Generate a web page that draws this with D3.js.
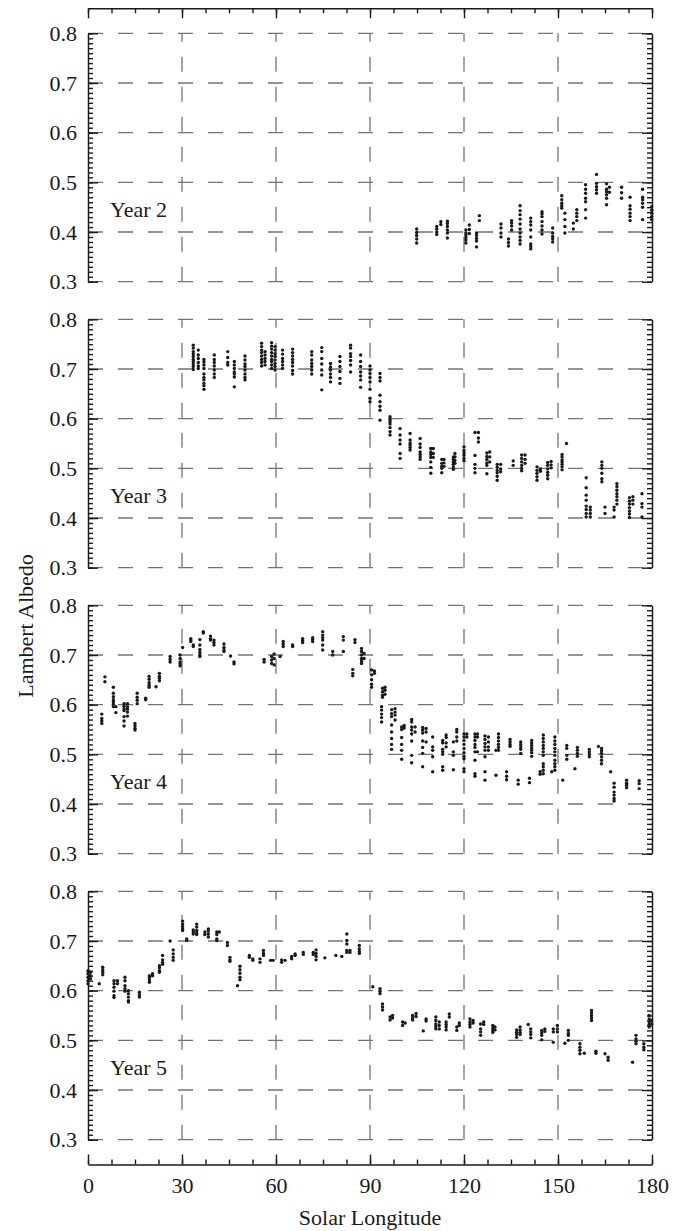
<!DOCTYPE html>
<html>
<head>
<meta charset="utf-8">
<script src="https://cdn.jsdelivr.net/npm/d3@7"></script>
<style>
  body { margin: 0; background: #fff; }
  svg { display: block; }
  text { font-family: "Liberation Serif", "Times New Roman", serif; fill: #1a1a1a; }
</style>
</head>
<body>
<svg id="chart" width="681" height="1231"></svg>
<script>
// Axis ticks and labels
const xTicks = [0, 30, 60, 90, 120, 150, 180];
const xGrid = [30, 60, 90, 120, 150];
const yTicks = [0.3, 0.4, 0.5, 0.6, 0.7, 0.8];
const yearLabels = ["Year 2", "Year 3", "Year 4", "Year 5"];

// Lambert albedo observations: [solar longitude, [albedo values at that Ls]]
const year2 = [
  [104.9, [0.406, 0.399, 0.393, 0.386, 0.378]],
  [111.3, [0.411, 0.406, 0.400, 0.395]],
  [112.6, [0.421, 0.415]],
  [114.7, [0.422, 0.417, 0.411, 0.404, 0.398, 0.388]],
  [120.6, [0.404, 0.398, 0.394, 0.389, 0.384, 0.378]],
  [121.7, [0.414, 0.405, 0.397]],
  [124.0, [0.398, 0.393, 0.387, 0.382, 0.370]],
  [124.9, [0.433, 0.423]],
  [131.8, [0.416, 0.408, 0.398, 0.390]],
  [134.2, [0.386, 0.379, 0.372]],
  [135.2, [0.423, 0.418, 0.412, 0.404]],
  [137.9, [0.453, 0.443, 0.435, 0.426, 0.416, 0.406, 0.398, 0.390, 0.383, 0.376]],
  [141.3, [0.428, 0.421, 0.414, 0.404, 0.390, 0.376, 0.371, 0.366]],
  [144.9, [0.441, 0.437, 0.431, 0.421, 0.412, 0.404, 0.396]],
  [148.3, [0.408, 0.398, 0.391, 0.386, 0.380]],
  [151.2, [0.473, 0.465, 0.458, 0.453, 0.448]],
  [152.2, [0.438, 0.425, 0.411, 0.398]],
  [154.9, [0.418, 0.406]],
  [156.0, [0.445, 0.438, 0.431, 0.423]],
  [158.8, [0.495, 0.486, 0.478, 0.468, 0.461, 0.445, 0.428]],
  [162.3, [0.516, 0.498, 0.491, 0.485, 0.478]],
  [165.5, [0.497, 0.486, 0.481, 0.475, 0.468, 0.455]],
  [166.4, [0.490, 0.480]],
  [170.3, [0.490, 0.479, 0.468]],
  [173.0, [0.470, 0.453, 0.446, 0.438, 0.431, 0.423]],
  [177.0, [0.486, 0.470, 0.465, 0.458, 0.450, 0.425]],
  [179.9, [0.451, 0.444, 0.438, 0.431, 0.425]]
];

const year3 = [
  [33.6, [0.748, 0.742, 0.735, 0.730, 0.725, 0.719, 0.715, 0.710, 0.705, 0.699]],
  [35.2, [0.738, 0.728, 0.721, 0.713, 0.706, 0.701]],
  [37.0, [0.719, 0.714, 0.708, 0.701, 0.690, 0.683, 0.678, 0.671, 0.666, 0.659]],
  [40.3, [0.728, 0.719, 0.713, 0.706, 0.698, 0.690, 0.683]],
  [44.6, [0.735, 0.723, 0.713, 0.708]],
  [46.7, [0.715, 0.708, 0.701, 0.694, 0.690, 0.684, 0.664]],
  [50.1, [0.726, 0.718, 0.710, 0.705, 0.698, 0.690, 0.683, 0.678]],
  [55.4, [0.752, 0.745, 0.738, 0.733, 0.726, 0.719, 0.713, 0.706]],
  [56.5, [0.735, 0.728, 0.721, 0.715, 0.708]],
  [58.6, [0.753, 0.746, 0.740, 0.733, 0.726, 0.719, 0.715, 0.708, 0.701]],
  [59.7, [0.745, 0.738, 0.731, 0.725, 0.718, 0.711, 0.705, 0.698]],
  [62.1, [0.738, 0.730, 0.721, 0.715, 0.708, 0.701]],
  [65.3, [0.740, 0.733, 0.726, 0.719, 0.713, 0.706, 0.697, 0.690]],
  [71.4, [0.735, 0.728, 0.718, 0.711, 0.705, 0.698, 0.690]],
  [74.6, [0.743, 0.735, 0.721, 0.710, 0.698, 0.688, 0.658]],
  [77.4, [0.711, 0.704, 0.698, 0.690, 0.683, 0.674]],
  [80.4, [0.725, 0.715, 0.705, 0.695, 0.681, 0.671]],
  [83.8, [0.748, 0.742, 0.731, 0.725, 0.717, 0.708, 0.694]],
  [87.0, [0.728, 0.715, 0.705, 0.694, 0.686, 0.678, 0.663]],
  [90.0, [0.706, 0.698, 0.691, 0.683, 0.674, 0.659, 0.641, 0.634]],
  [93.2, [0.691, 0.683, 0.676, 0.647, 0.634, 0.625, 0.617, 0.597]],
  [96.4, [0.604, 0.598, 0.594, 0.589, 0.582, 0.574, 0.567]],
  [99.6, [0.580, 0.567, 0.557, 0.549, 0.530, 0.520]],
  [102.8, [0.570, 0.557, 0.551, 0.547, 0.542, 0.537]],
  [106.0, [0.560, 0.549, 0.542, 0.533, 0.528, 0.523, 0.518]],
  [109.4, [0.540, 0.533, 0.528, 0.522, 0.513, 0.502, 0.490]],
  [110.2, [0.540, 0.530, 0.522]],
  [112.9, [0.518, 0.510, 0.504, 0.500, 0.491]],
  [113.6, [0.518, 0.511, 0.504]],
  [116.6, [0.523, 0.518, 0.513, 0.508, 0.503, 0.498]],
  [117.1, [0.530, 0.523, 0.516, 0.510]],
  [120.0, [0.543, 0.536, 0.531, 0.526, 0.520, 0.515]],
  [123.5, [0.572, 0.526, 0.508, 0.500, 0.491]],
  [124.6, [0.572, 0.561, 0.553]],
  [127.3, [0.531, 0.524, 0.518, 0.511, 0.506, 0.489]],
  [128.2, [0.533, 0.523, 0.513]],
  [130.6, [0.508, 0.502, 0.496, 0.491, 0.484, 0.476]],
  [131.7, [0.508, 0.499, 0.493]],
  [135.7, [0.515, 0.506]],
  [138.4, [0.527, 0.520, 0.513, 0.506, 0.500, 0.495]],
  [139.5, [0.527, 0.518, 0.510]],
  [143.3, [0.503, 0.496, 0.490, 0.483, 0.476]],
  [144.4, [0.499, 0.494]],
  [146.7, [0.512, 0.506, 0.499, 0.492, 0.486, 0.479]],
  [147.8, [0.514, 0.507, 0.501]],
  [151.3, [0.528, 0.523, 0.517, 0.513, 0.508, 0.503, 0.497]],
  [152.7, [0.550]],
  [159.0, [0.481, 0.461, 0.446, 0.436, 0.424, 0.417, 0.409, 0.402]],
  [160.3, [0.422, 0.416, 0.409, 0.402]],
  [164.0, [0.513, 0.506, 0.500, 0.490, 0.479, 0.473]],
  [165.0, [0.422, 0.409]],
  [167.9, [0.422, 0.416, 0.402]],
  [168.8, [0.469, 0.463, 0.456, 0.449, 0.443, 0.436, 0.428]],
  [172.8, [0.441, 0.434, 0.428, 0.421, 0.414, 0.408, 0.401]],
  [173.9, [0.443, 0.436, 0.428]],
  [176.8, [0.449, 0.429, 0.422, 0.402]]
];

const year4 = [
  [4.4, [0.581, 0.572, 0.567, 0.562]],
  [5.4, [0.656, 0.646]],
  [8.1, [0.635, 0.623, 0.616, 0.610, 0.606, 0.601, 0.596]],
  [8.9, [0.596, 0.584]],
  [11.5, [0.602, 0.597, 0.592, 0.588, 0.576, 0.567, 0.557]],
  [12.6, [0.602, 0.596, 0.591, 0.585, 0.577]],
  [15.0, [0.562, 0.557, 0.552, 0.549]],
  [15.7, [0.623, 0.615, 0.609, 0.602]],
  [18.4, [0.613, 0.610]],
  [19.5, [0.657, 0.651, 0.644, 0.639, 0.635]],
  [21.7, [0.636]],
  [22.8, [0.663, 0.657, 0.653, 0.648]],
  [26.2, [0.697, 0.691, 0.686]],
  [29.4, [0.700, 0.693, 0.686, 0.682, 0.678]],
  [30.2, [0.715]],
  [32.8, [0.733, 0.730, 0.727]],
  [33.6, [0.720, 0.717]],
  [35.7, [0.731, 0.720, 0.711, 0.705, 0.700, 0.697]],
  [36.8, [0.747, 0.744]],
  [39.1, [0.738, 0.733, 0.730]],
  [40.2, [0.730, 0.725, 0.720]],
  [43.4, [0.722, 0.715, 0.710, 0.707]],
  [45.5, [0.698]],
  [46.6, [0.686, 0.682]],
  [56.2, [0.691, 0.686]],
  [58.6, [0.697, 0.690, 0.683]],
  [59.4, [0.702, 0.693, 0.680]],
  [61.3, [0.697]],
  [62.3, [0.727, 0.722, 0.717]],
  [65.3, [0.720, 0.717]],
  [68.5, [0.733, 0.729, 0.725]],
  [71.7, [0.735, 0.731, 0.727]],
  [74.9, [0.747, 0.740, 0.735, 0.730, 0.720, 0.710]],
  [78.1, [0.707, 0.700]],
  [81.5, [0.737, 0.730, 0.707]],
  [84.5, [0.671, 0.663, 0.658]],
  [85.2, [0.731, 0.725]],
  [87.3, [0.713, 0.707, 0.700, 0.693, 0.688, 0.683]],
  [88.1, [0.703, 0.693]],
  [90.5, [0.670, 0.660, 0.650, 0.641, 0.635]],
  [91.4, [0.668, 0.663]],
  [93.7, [0.596, 0.589, 0.581, 0.574, 0.565]],
  [94.0, [0.633, 0.626, 0.619, 0.615]],
  [94.8, [0.635, 0.629, 0.621]],
  [96.9, [0.590, 0.582, 0.576, 0.559, 0.545, 0.532, 0.520, 0.510]],
  [98.0, [0.592, 0.585, 0.579, 0.569]],
  [100.1, [0.555, 0.550, 0.534, 0.520, 0.508, 0.490]],
  [100.9, [0.558, 0.553]],
  [103.3, [0.570, 0.565, 0.555, 0.549, 0.541, 0.527, 0.498, 0.483]],
  [104.4, [0.555, 0.545]],
  [106.8, [0.554, 0.549, 0.543, 0.527, 0.514, 0.502, 0.475]],
  [107.9, [0.552, 0.545, 0.525]],
  [110.0, [0.535, 0.515, 0.508, 0.495, 0.465]],
  [113.2, [0.528, 0.523, 0.510, 0.505, 0.500, 0.475, 0.468]],
  [114.3, [0.539, 0.534, 0.523, 0.515]],
  [116.6, [0.525, 0.505, 0.498, 0.469]],
  [117.7, [0.550, 0.545, 0.535, 0.527]],
  [120.0, [0.541, 0.535, 0.528, 0.520, 0.512, 0.503, 0.496, 0.491, 0.471, 0.465]],
  [120.9, [0.541, 0.535]],
  [123.5, [0.541, 0.535, 0.528, 0.520, 0.514, 0.505, 0.488, 0.461, 0.456]],
  [124.3, [0.541, 0.535, 0.505]],
  [126.7, [0.537, 0.530, 0.522, 0.515, 0.508, 0.495, 0.465, 0.448]],
  [127.8, [0.535, 0.525, 0.515, 0.508]],
  [130.2, [0.508, 0.458]],
  [131.0, [0.541, 0.534, 0.527, 0.520, 0.514, 0.508]],
  [133.6, [0.465, 0.456, 0.449]],
  [134.7, [0.530, 0.525, 0.520, 0.516]],
  [137.3, [0.448, 0.440]],
  [138.1, [0.525, 0.520, 0.515, 0.510, 0.502]],
  [140.9, [0.452, 0.443]],
  [141.6, [0.528, 0.523, 0.518, 0.513, 0.508, 0.503, 0.496]],
  [144.3, [0.465, 0.460]],
  [145.3, [0.539, 0.532, 0.525, 0.518, 0.512, 0.505, 0.498, 0.481, 0.475, 0.468, 0.461]],
  [148.0, [0.465]],
  [149.0, [0.535, 0.527, 0.520, 0.512, 0.505, 0.498, 0.488, 0.481, 0.475, 0.468]],
  [151.5, [0.448]],
  [152.8, [0.518, 0.512, 0.498, 0.490]],
  [155.4, [0.471]],
  [156.2, [0.514, 0.508, 0.502, 0.496]],
  [160.0, [0.510, 0.505, 0.500, 0.495]],
  [162.9, [0.516]],
  [163.9, [0.512, 0.507, 0.502, 0.495, 0.488, 0.481]],
  [166.8, [0.465]],
  [167.9, [0.442, 0.434, 0.424, 0.418, 0.411, 0.406]],
  [171.9, [0.448, 0.442, 0.438, 0.433]],
  [175.9, [0.447, 0.441, 0.431]]
];

const year5 = [
  [0.0, [0.640, 0.634, 0.627, 0.620, 0.614]],
  [0.8, [0.637, 0.630, 0.624]],
  [3.6, [0.614]],
  [4.7, [0.647, 0.642, 0.637, 0.632]],
  [8.3, [0.620, 0.614, 0.607, 0.599, 0.590, 0.586]],
  [9.4, [0.620, 0.614]],
  [11.8, [0.627, 0.620, 0.610, 0.604, 0.599]],
  [12.9, [0.600, 0.594, 0.587, 0.580, 0.577]],
  [16.4, [0.597, 0.592, 0.587]],
  [19.6, [0.630, 0.627, 0.622, 0.617]],
  [20.6, [0.634, 0.630]],
  [22.8, [0.650, 0.646, 0.640, 0.637]],
  [23.8, [0.671, 0.662, 0.657, 0.653]],
  [26.2, [0.700]],
  [27.2, [0.682, 0.674, 0.667, 0.661]],
  [30.2, [0.740, 0.734, 0.729, 0.724, 0.721]],
  [31.5, [0.704, 0.701]],
  [33.6, [0.722, 0.718, 0.714]],
  [34.7, [0.734, 0.728, 0.721, 0.716, 0.713]],
  [37.3, [0.718, 0.713]],
  [38.4, [0.724, 0.720, 0.714, 0.708]],
  [41.1, [0.718, 0.713, 0.704, 0.701]],
  [41.9, [0.718]],
  [44.5, [0.697, 0.691]],
  [45.3, [0.667, 0.662, 0.659]],
  [47.7, [0.610]],
  [48.5, [0.649, 0.642, 0.635, 0.627, 0.622]],
  [51.5, [0.671, 0.667]],
  [52.6, [0.664, 0.661]],
  [54.9, [0.664, 0.657]],
  [56.0, [0.681, 0.675, 0.671]],
  [58.3, [0.661]],
  [59.1, [0.661]],
  [61.8, [0.662, 0.657]],
  [62.9, [0.661]],
  [65.0, [0.669, 0.664]],
  [66.1, [0.674, 0.671]],
  [68.7, [0.677, 0.673]],
  [71.9, [0.677, 0.673]],
  [72.8, [0.682, 0.675, 0.669, 0.662]],
  [75.6, [0.666]],
  [79.1, [0.671]],
  [81.0, [0.669]],
  [82.6, [0.714, 0.701, 0.694, 0.681, 0.677]],
  [83.6, [0.681, 0.677]],
  [86.6, [0.691, 0.684, 0.679, 0.675]],
  [90.9, [0.608]],
  [93.2, [0.604, 0.599, 0.594]],
  [94.0, [0.573, 0.567, 0.561]],
  [96.4, [0.547, 0.541]],
  [97.2, [0.550, 0.545]],
  [100.4, [0.537, 0.530]],
  [101.2, [0.535]],
  [103.6, [0.550, 0.545, 0.541]],
  [104.7, [0.554, 0.548]],
  [107.0, [0.519]],
  [107.9, [0.543, 0.539]],
  [111.0, [0.547, 0.540, 0.533, 0.528, 0.523]],
  [112.1, [0.537, 0.530, 0.523]],
  [114.3, [0.537, 0.532, 0.527, 0.521]],
  [115.3, [0.553, 0.547]],
  [117.7, [0.527, 0.520]],
  [118.5, [0.535, 0.530]],
  [121.9, [0.543, 0.537, 0.532, 0.527]],
  [122.9, [0.540, 0.535]],
  [125.3, [0.533, 0.523, 0.517, 0.510]],
  [126.3, [0.537, 0.532]],
  [129.2, [0.530, 0.525, 0.520, 0.516]],
  [129.9, [0.527, 0.521]],
  [136.8, [0.521, 0.516, 0.512, 0.506]],
  [137.9, [0.527, 0.521, 0.516, 0.512]],
  [140.5, [0.532]],
  [141.3, [0.523, 0.517, 0.512, 0.505]],
  [144.8, [0.520, 0.515, 0.510, 0.501]],
  [145.8, [0.523, 0.518]],
  [148.5, [0.523, 0.517, 0.496]],
  [149.8, [0.530, 0.523, 0.517]],
  [152.2, [0.494]],
  [153.3, [0.520, 0.514, 0.510, 0.500]],
  [157.0, [0.493, 0.486, 0.480, 0.473]],
  [158.4, [0.474]],
  [160.7, [0.560, 0.555, 0.550, 0.545, 0.540]],
  [162.1, [0.478, 0.474]],
  [165.0, [0.473]],
  [166.0, [0.466, 0.460]],
  [173.8, [0.456]],
  [174.9, [0.510, 0.503, 0.498, 0.493]],
  [177.4, [0.493, 0.486, 0.481]],
  [179.1, [0.550, 0.543, 0.537, 0.532, 0.527]],
  [179.9, [0.540, 0.533]]
];

const panels = [year2, year3, year4, year5];

// Layout
const svg = d3.select("#chart");
const left = 88, right = 652;
const firstTop = 33.3, panelStep = 286, panelH = 248.4;
const topAxisY = 8.3, bottomAxisY = 1164.5;
const gridColor = "#737373", inkColor = "#1a1a1a";

const x = d3.scaleLinear().domain([0, 180]).range([left, right]);
const xMinor = d3.range(0, 180.001, 7.5);
const yMinor = d3.range(30, 81).map(i => i / 100);

function styleAxis(g) {
  g.selectAll("path.domain").attr("stroke", inkColor).attr("stroke-width", 1.5);
  g.selectAll(".tick line").attr("stroke", inkColor).attr("stroke-width", 1.4);
  g.selectAll(".tick text").attr("font-size", 22).attr("fill", inkColor)
    .attr("font-family", '"Liberation Serif", "Times New Roman", serif');
}

// Top longitude axis (ticks pointing down, no labels)
svg.append("g").attr("transform", `translate(0,${topAxisY})`)
  .call(d3.axisBottom(x).tickValues(xMinor).tickSize(5).tickSizeOuter(0).tickFormat(""))
  .call(styleAxis);
svg.append("g").attr("transform", `translate(0,${topAxisY})`)
  .call(d3.axisBottom(x).tickValues(xTicks).tickSize(10).tickFormat(""))
  .call(g => g.select(".domain").remove())
  .call(styleAxis);

// Bottom longitude axis (ticks pointing up, labels below)
svg.append("g").attr("transform", `translate(0,${bottomAxisY})`)
  .call(d3.axisBottom(x).tickValues(xMinor).tickSize(-5).tickSizeOuter(0).tickFormat(""))
  .call(styleAxis);
svg.append("g").attr("transform", `translate(0,${bottomAxisY})`)
  .call(d3.axisBottom(x).tickValues(xTicks).tickSize(-10).tickPadding(13).tickFormat(d3.format("d")))
  .call(g => g.select(".domain").remove())
  .call(styleAxis);

panels.forEach((data, i) => {
  const top = firstTop + i * panelStep;
  const y = d3.scaleLinear().domain([0.3, 0.8]).range([top + panelH, top]);
  const g = svg.append("g");

  // Dashed grid
  g.append("g").selectAll("line").data(yTicks).join("line")
    .attr("x1", x(0)).attr("x2", x(180))
    .attr("y1", d => y(d)).attr("y2", d => y(d))
    .attr("stroke", gridColor).attr("stroke-width", 1.3)
    .attr("stroke-dasharray", "15,15");
  g.append("g").selectAll("line").data(xGrid).join("line")
    .attr("x1", d => x(d)).attr("x2", d => x(d))
    .attr("y1", y(0.3)).attr("y2", y(0.8))
    .attr("stroke", gridColor).attr("stroke-width", 1.3)
    .attr("stroke-dasharray", "15,15");

  // Left and right albedo axes, ticks pointing inward
  g.append("g").attr("transform", `translate(${left},0)`)
    .call(d3.axisLeft(y).tickValues(yMinor).tickSize(-5).tickSizeOuter(0).tickFormat(""))
    .call(styleAxis);
  g.append("g").attr("transform", `translate(${left},0)`)
    .call(d3.axisLeft(y).tickValues(yTicks).tickSize(-10).tickPadding(11).tickFormat(d3.format(".1f")))
    .call(gg => gg.select(".domain").remove())
    .call(styleAxis);
  g.append("g").attr("transform", `translate(${right},0)`)
    .call(d3.axisRight(y).tickValues(yMinor).tickSize(-5).tickSizeOuter(0).tickFormat(""))
    .call(styleAxis);
  g.append("g").attr("transform", `translate(${right},0)`)
    .call(d3.axisRight(y).tickValues(yTicks).tickSize(-10).tickFormat(""))
    .call(gg => gg.select(".domain").remove())
    .call(styleAxis);

  // Observations
  const points = data.flatMap(([ls, vals]) => vals.map(v => ({ ls, v })));
  g.append("g").selectAll("circle").data(points).join("circle")
    .attr("cx", d => x(d.ls)).attr("cy", d => y(d.v))
    .attr("r", 1.7).attr("fill", "#1a1a1a");

  // Year label
  g.append("text").attr("x", 110).attr("y", y(0.43))
    .attr("font-size", 22).text(yearLabels[i]);
});

// Axis titles
svg.append("text").attr("x", (left + right) / 2).attr("y", 1225)
  .attr("text-anchor", "middle").attr("font-size", 22).text("Solar Longitude");
svg.append("text").attr("transform", "translate(33,626) rotate(-90)")
  .attr("text-anchor", "middle").attr("font-size", 22).text("Lambert Albedo");
</script>
</body>
</html>
